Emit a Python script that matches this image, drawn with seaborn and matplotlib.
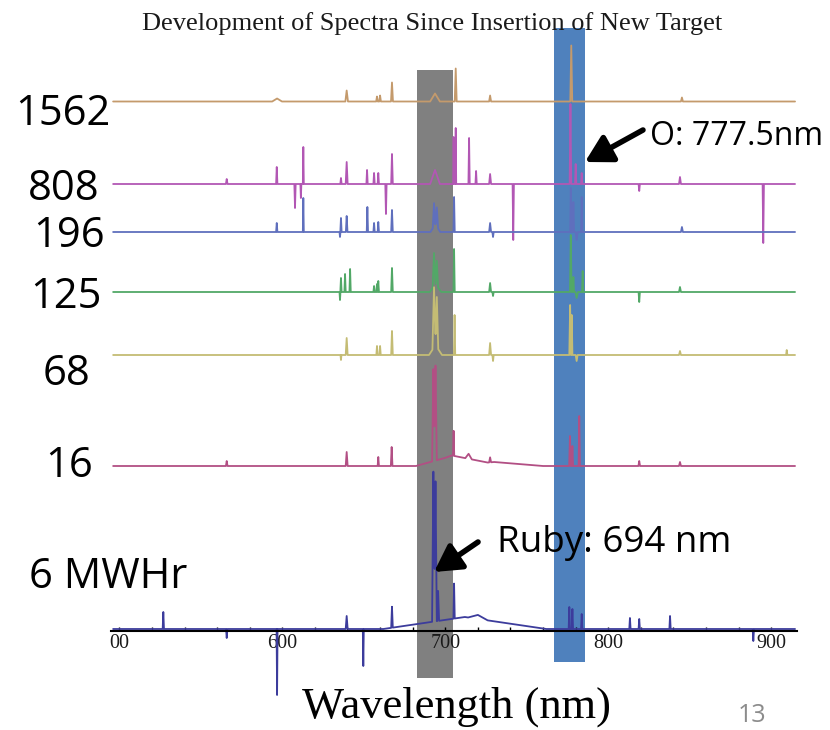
import numpy as np
import pandas as pd
import seaborn as sns
import matplotlib.pyplot as plt

# ---------------- data ----------------
series_names = ["1562", "808", "196", "125", "68", "16", "6 MWHr"]
series_colors = ["#c49a6c", "#b257b4", "#5f6fbd", "#52a867", "#c4bc74", "#b24f84", "#3c3c9c"]
# vertical offset of each trace (arbitrary stacked units)
offsets = [529.5, 447, 399, 339, 276, 165, 2]
wl_start, wl_end = 496.2, 914.6

# peak positions (nm), heights (a.u.; negative = dip), half widths (nm)
p1562_nm = [596.8, 639.5, 658.1, 660.0, 667.3, 693.7, 706.4, 727.5, 777.3, 845.2]
p1562_h = [3, 11, 5, 6, 19, 8, 33, 6, 56, 4]
p1562_w = [3, 0.8, 0.5, 0.5, 0.6, 3, 0.6, 0.6, 0.6, 0.6]

p808_nm = [565.9, 596.6, 607.8, 611.4, 612.9, 636.0, 639.5, 652.0, 656.3, 658.9, 663.6, 667.3,
           693.7, 705.1, 706.4, 714.6, 718.9, 727.5, 741.7, 776.8, 780.0, 783.7, 819.0, 844.0, 895.1]
p808_h = [5, 17, -24, -14, 37, 6, 22, 14, 11, 11, -30, 30,
          14, 47, 56, 46, 13, 10, -56, 80, 20, 11, -7, 7, -59]
p808_w = [0.5, 0.4, 0.4, 0.3, 0.3, 0.4, 0.6, 0.4, 0.4, 0.4, 0.4, 0.5,
          3, 0.3, 0.3, 0.4, 0.4, 0.6, 0.4, 0.5, 0.4, 0.4, 0.4, 0.6, 0.4]

p196_nm = [596.6, 612.9, 635.4, 636.0, 639.5, 652.2, 656.3, 658.9, 667.3, 693.9, 693.1, 694.8,
           705.4, 727.5, 729.3, 777.0, 778.6, 780.6, 783.7, 845.2]
p196_h = [9, 34, -5, 14, 16, 25, 9, 10, 22, 8, 23, 19,
          35, 9, -5, 44, 30, -8, 35, 5]
p196_w = [0.4, 0.3, 0.3, 0.4, 0.5, 0.4, 0.4, 0.4, 0.5, 3, 0.8, 0.8,
          0.4, 0.6, 0.4, 0.4, 0.4, 0.6, 0.4, 0.6]

p125_nm = [635.4, 636.0, 638.5, 641.6, 656.3, 658.1, 658.9, 667.3, 694.0, 693.1, 694.8,
           705.4, 727.5, 729.3, 777.0, 778.6, 780.6, 784.3, 819.0, 844.0]
p125_h = [-8, 14, 18, 23, 6, 8, 11, 24, 8, 33, 25,
          43, 9, -4, 57, 15, -6, 21, -10, 5]
p125_w = [0.3, 0.4, 0.4, 0.4, 0.4, 0.4, 0.4, 0.5, 3.5, 0.9, 0.8,
          0.4, 0.6, 0.4, 0.5, 0.4, 0.8, 0.4, 0.4, 0.6]

p68_nm = [636.0, 639.5, 658.1, 660.0, 667.3, 694.0, 693.1, 694.8, 705.7, 727.5, 729.3,
          776.6, 777.6, 780.6, 844.0, 909.5]
p68_h = [-5, 17, 9, 9, 24, 10, 60, 50, 40, 12, -6,
         50, 40, -6, 4, 5]
p68_w = [0.3, 0.6, 0.4, 0.4, 0.5, 4, 1.0, 0.9, 0.4, 0.6, 0.4,
         0.5, 0.4, 0.6, 0.6, 0.4]

p16_nm = [565.9, 639.5, 658.9, 667.1, 704.0, 730.0, 692.7, 694.0, 705.1, 714.3, 727.5,
          776.5, 778.0, 782.2, 819.0, 844.0]
p16_h = [5, 14, 9, 19, 10, 4, 92, 95, 25, 5, 5,
         30, 20, 50, 5, 4]
p16_w = [0.5, 0.6, 0.4, 0.5, 22, 30, 0.8, 0.8, 0.4, 2, 0.6,
         0.5, 0.4, 0.4, 0.5, 0.6]

p6_nm = [527.0, 565.9, 596.8, 639.5, 649.7, 667.3, 712.0, 720.0, 692.7, 694.0, 695.6,
         705.4, 776.1, 778.0, 783.7, 813.3, 819.0, 837.9, 889.0]
p6_h = [17, -9, -66, 13, -37, 21, 12, 4, 150, 140, 30,
        35, 22, 20, 15, 11, 10, 13, -12]
p6_w = [0.4, 0.4, 0.3, 0.6, 0.3, 0.5, 50, 6, 0.8, 0.8, 0.6,
        0.4, 0.4, 0.4, 0.4, 0.4, 0.4, 0.4, 0.4]

peak_nm = [p1562_nm, p808_nm, p196_nm, p125_nm, p68_nm, p16_nm, p6_nm]
peak_h = [p1562_h, p808_h, p196_h, p125_h, p68_h, p16_h, p6_h]
peak_w = [p1562_w, p808_w, p196_w, p125_w, p68_w, p16_w, p6_w]

tick_values = [500, 600, 700, 800, 900]
tick_labels = ["00", "600", "700", "800", "900"]

ruby_band = (682.7, 704.8)
oxygen_band = (766.7, 785.7)

# ---------------- build long table ----------------
rows = []
for name, off, c, h, w in zip(series_names, offsets, peak_nm, peak_h, peak_w):
    c = np.asarray(c, float); h = np.asarray(h, float); w = np.asarray(w, float)
    xs = np.unique(np.concatenate([[wl_start, wl_end], c - w, c, c + w]))
    ys = off + (h[None, :] * np.clip(1 - np.abs(xs[:, None] - c[None, :]) / w[None, :], 0, None)).sum(axis=1)
    rows.append(pd.DataFrame({"wavelength": xs, "signal": ys, "series": name}))
df = pd.concat(rows, ignore_index=True)

# ---------------- plot ----------------
sns.set_theme(style="white")
plt.rcParams["font.family"] = ["Open Sans", "DejaVu Sans"]

fig = plt.figure(figsize=(8.3, 7.3), dpi=100)
ax = fig.add_axes([111 / 830, 99 / 730, 686 / 830, 603 / 730])
ax.set_xlim(494.9, 915.8)
ax.set_ylim(0, 603)
ax.set_axisbelow(False)

ax.fill_between(list(ruby_band), -47, 561, color="#808080", lw=0, zorder=1, clip_on=False)
ax.fill_between(list(oxygen_band), -31, 603, color="#4f81bd", lw=0, zorder=1, clip_on=False)

sns.lineplot(data=df, x="wavelength", y="signal", hue="series", hue_order=series_names,
             palette=series_colors, estimator=None, legend=False, lw=1.3, ax=ax, zorder=3)
for ln in ax.lines:
    ln.set_clip_on(False)

ax.set_xlabel("")
ax.set_ylabel("")
ax.set_yticks([])
ax.set_xticks(tick_values)
ax.set_xticklabels(tick_labels, family="Liberation Serif", fontsize=14.5, color="#1a1a1a")
ax.set_xticks(np.arange(500, 920, 20), minor=True)
ax.tick_params(axis="x", which="both", direction="in", length=3, width=1, color="black",
               bottom=True, pad=2)
for s in ["top", "right", "left"]:
    ax.spines[s].set_visible(False)
ax.spines["bottom"].set_color("black")
ax.spines["bottom"].set_linewidth(1.5)
ax.spines["bottom"].set_zorder(4)

# annotations
arrow = dict(arrowstyle="-|>,head_length=0.8,head_width=0.45", color="black", lw=4,
             shrinkA=0, shrinkB=0, mutation_scale=20)
ax.annotate("", xy=(785.7, 469), xytext=(821.3, 501), arrowprops=arrow, zorder=5)
ax.annotate("", xy=(693.1, 59), xytext=(720.1, 89), arrowprops=arrow, zorder=5)
ax.text(825.7, 486, "O: 777.5nm", fontsize=23, va="baseline", ha="left", color="black", zorder=5)
ax.text(731.7, 79, "Ruby: 694 nm", fontsize=26.5, va="baseline", ha="left", color="black", zorder=5)

# left series labels
label_pos = [(15, 125), (28, 200), (33, 247), (30, 308), (43, 385), (45, 477), (29, 588)]
for name, (lx, ly) in zip(series_names, label_pos):
    fig.text(lx / 830, 1 - ly / 730, name, fontsize=30, ha="left", va="baseline", color="black")

fig.text(432 / 830, 1 - 30 / 730, "Development of Spectra Since Insertion of New Target",
         family="Liberation Serif", fontsize=19, ha="center", va="baseline", color="#1a1a1a")
fig.text(456 / 830, 1 - 718 / 730, "Wavelength (nm)", family="Liberation Serif", fontsize=32,
         ha="center", va="baseline", color="black")
fig.text(738 / 830, 1 - 722 / 730, "13", fontsize=18, ha="left", va="baseline", color="#8c8c8c")

fig.savefig("out.png", dpi=100)
